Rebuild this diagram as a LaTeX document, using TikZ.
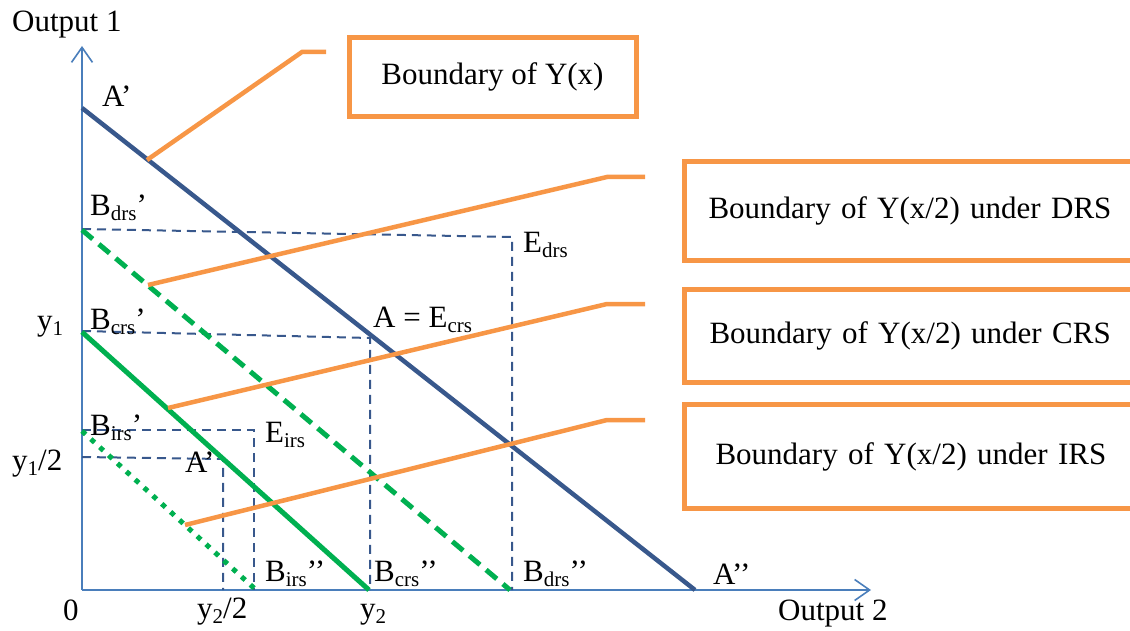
\documentclass[tikz,border=0pt]{standalone}
\usepackage{fontspec}
\setmainfont{Liberation Serif}
\usetikzlibrary{arrows.meta}
\definecolor{axisblue}{RGB}{74,126,187}
\definecolor{lineblue}{RGB}{56,88,140}
\definecolor{ggreen}{RGB}{0,176,80}
\definecolor{oorange}{RGB}{247,150,70}
\newcommand{\sbs}[1]{\raisebox{-5pt}{\fontsize{21}{21}\selectfont #1}}
\begin{document}
\begin{tikzpicture}[x=1pt,y=-1pt,
  lbl/.style={font=\fontsize{31}{36}\selectfont, inner sep=0pt, anchor=base west},
  axisline/.style={draw=axisblue, line width=1.6pt, -{Straight Barb[length=15pt,width=21pt,line width=1.6pt]}},
  bline/.style={draw=lineblue, line width=4.5pt},
  guide/.style={draw=lineblue, line width=2pt, dash pattern=on 9pt off 6pt},
  gsolid/.style={draw=ggreen, line width=5pt},
  gdash/.style={draw=ggreen, line width=5pt, dash pattern=on 14pt off 8pt},
  gdot/.style={draw=ggreen, line width=5pt, dash pattern=on 5pt off 7pt},
  oline/.style={draw=oorange, line width=4.5pt},
  obox/.style={draw=oorange, line width=5pt, font=\fontsize{31}{36}\selectfont, inner ysep=0pt}
]
\useasboundingbox (0,0) rectangle (1130,631);
\clip (0,0) rectangle (1130,631);

% axes
\coordinate (O) at (82,590);
\coordinate (Ytip) at (82,46);
\coordinate (Xtip) at (871,590);
\draw[axisline] (O) -- (Ytip);
\draw[axisline] (O) -- (Xtip);

% key points
\coordinate (Ap) at (82,108);
\coordinate (App) at (695,590);
\coordinate (Bdp) at (82,230);
\coordinate (Bdpp) at (510,590);
\coordinate (Bcp) at (82,332);
\coordinate (Bcpp) at (369,590);
\coordinate (Bip) at (82,431);
\coordinate (Bipp) at (255,589);

% guide corners
\coordinate (Gd0) at (82,229);
\coordinate (Ed) at (512,237);
\coordinate (Edb) at (512,590);
\coordinate (Gc0) at (82,331);
\coordinate (Ec) at (370,338);
\coordinate (Ecb) at (370,590);
\coordinate (Gi0) at (82,430);
\coordinate (Ei) at (254,430);
\coordinate (Eib) at (254,590);
\coordinate (Gh0) at (82,457);
\coordinate (Ah) at (223,459);
\coordinate (Ahb) at (223,590);

\draw[guide] (Gd0) -- (Ed) -- (Edb);
\draw[guide] (Gc0) -- (Ec) -- (Ecb);
\draw[guide] (Gi0) -- (Ei) -- (Eib);
\draw[guide] (Gh0) -- (Ah) -- (Ahb);

% boundaries
\draw[gdash] (Bdp) -- (Bdpp);
\draw[gsolid] (Bcp) -- (Bcpp);
\draw[gdot] (Bip) -- (Bipp);
\draw[bline] (Ap) -- (App);

% boxes
\node[obox, minimum width=287pt, minimum height=79pt] (bx) at (492.5,77) {Boundary of Y(x)};
\node[obox, anchor=north west, minimum height=99pt, text width=420pt, inner xsep=24pt, align=left] (bdrs) at (682,159) {Boundary of Y(x/2) under DRS};
\node[obox, anchor=north west, minimum height=93pt, text width=420pt, inner xsep=25pt, align=left] (bcrs) at (682,287) {Boundary of Y(x/2) under CRS};
\node[obox, anchor=north west, minimum height=104pt, text width=420pt, inner xsep=31pt, align=left] (birs) at (682,402) {Boundary of Y(x/2) under IRS};

% orange leaders
\coordinate (L1a) at (147,160); \coordinate (L1b) at (302,52); \coordinate (L1c) at (326,52);
\coordinate (L2a) at (148,285); \coordinate (L2b) at (607,177); \coordinate (L2c) at (645,177);
\coordinate (L3a) at (168,408); \coordinate (L3b) at (607,304); \coordinate (L3c) at (645,304);
\coordinate (L4a) at (185,525); \coordinate (L4b) at (607,420); \coordinate (L4c) at (645,420);
\draw[oline] (L1a) -- (L1b) -- (L1c);
\draw[oline] (L2a) -- (L2b) -- (L2c);
\draw[oline] (L3a) -- (L3b) -- (L3c);
\draw[oline] (L4a) -- (L4b) -- (L4c);

% labels
\node[lbl] (out1) at (12,32) {Output 1};
\node[lbl] (out2) at (778,620) {Output 2};
\node[lbl] (zero) at (63,620) {0};
\node[lbl] (y2h) at (197,618) {y\sbs{2}/2};
\node[lbl] (y2) at (360,618) {y\sbs{2}};
\node[lbl] (y1) at (37,330) {y\sbs{1}};
\node[lbl] (y1h) at (12,470) {y\sbs{1}/2};
\node[lbl] (lAp) at (102,107) {A’};
\node[lbl] (lApp) at (713,584) {A’’};
\node[lbl] (lBdp) at (90,216) {B\sbs{drs}’};
\node[lbl] (lBcp) at (90,329) {B\sbs{crs}’};
\node[lbl] (lBip) at (90,435) {B\sbs{irs}’};
\node[lbl] (lBipp) at (265,581) {B\sbs{irs}’’};
\node[lbl] (lBcpp) at (374,581) {B\sbs{crs}’’};
\node[lbl] (lBdpp) at (523,581) {B\sbs{drs}’’};
\node[lbl] (lEd) at (523,253) {E\sbs{drs}};
\node[lbl] (lEc) at (373,327) {A = E\sbs{crs}};
\node[lbl] (lEi) at (265,442) {E\sbs{irs}};
\node[lbl] (lAh) at (185,472) {A’};
\end{tikzpicture}
\end{document}
